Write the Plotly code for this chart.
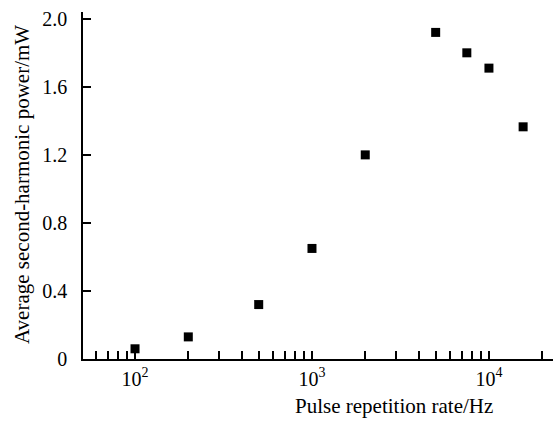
import plotly.graph_objects as go

rate_hz = [100, 200, 500, 1000, 2000, 5000, 7500, 10000, 15600]
power_mw = [0.06, 0.13, 0.32, 0.65, 1.20, 1.92, 1.80, 1.71, 1.365]

x_major = [100, 1000, 10000]
x_major_text = ["10<sup>2</sup>", "10<sup>3</sup>", "10<sup>4</sup>"]
x_minor = [60, 70, 80, 90, 200, 300, 400, 500, 600, 700, 800, 900,
           2000, 3000, 4000, 5000, 6000, 7000, 8000, 9000, 20000]
y_ticks = [0, 0.4, 0.8, 1.2, 1.6, 2.0]
y_text = ["0", "0.4", "0.8", "1.2", "1.6", "2.0"]

FONT = "Liberation Serif"
FS = 20

fig = go.Figure(go.Scatter(
    x=rate_hz, y=power_mw, mode="markers",
    marker=dict(symbol="square", size=9, color="black"),
))

pw = 553 - 83
ph = 423 - 12 - 64


def px_to_paper(xp, yp):
    return (xp - 83) / pw, (423 - yp - 64) / ph


tx, ty = px_to_paper(394, 420)
yx, yy = px_to_paper(22, 185)

fig.update_layout(
    width=553, height=423,
    margin=dict(l=83, r=0, t=12, b=64),
    paper_bgcolor="white", plot_bgcolor="white",
    showlegend=False,
    font=dict(family=FONT, size=FS, color="black"),
    xaxis=dict(
        type="log", range=[1.706, 4.362],
        tickmode="array", tickvals=x_major, ticktext=x_major_text,
        ticks="inside", ticklen=8, tickwidth=1.5, tickcolor="black",
        minor=dict(tickmode="array", tickvals=x_minor, ticks="inside",
                   ticklen=8, tickwidth=1.5, tickcolor="black", showgrid=False),
        showline=True, linecolor="black", linewidth=1.5,
        showgrid=False, zeroline=False,
        ticklabelstandoff=1,
        tickfont=dict(family=FONT, size=FS),
    ),
    yaxis=dict(
        range=[0, 2.04],
        tickmode="array", tickvals=y_ticks, ticktext=y_text,
        ticks="inside", ticklen=8, tickwidth=1.5, tickcolor="black",
        showline=True, linecolor="black", linewidth=1.5,
        showgrid=False, zeroline=False,
        ticklabelstandoff=10,
        tickfont=dict(family=FONT, size=FS),
    ),
    annotations=[
        dict(text="Pulse repetition rate/Hz", x=tx, y=ty,
             xref="paper", yref="paper", showarrow=False,
             xanchor="center", yanchor="bottom",
             font=dict(family=FONT, size=21)),
        dict(text="Average second-harmonic power/mW", x=yx, y=yy,
             xref="paper", yref="paper", showarrow=False, textangle=-90,
             xanchor="center", yanchor="middle",
             font=dict(family=FONT, size=21)),
    ],
)

fig.write_html(
    "out.html",
    config={"displayModeBar": False},
    post_script="document.body.style.margin='0';document.body.style.overflow='hidden';",
)
